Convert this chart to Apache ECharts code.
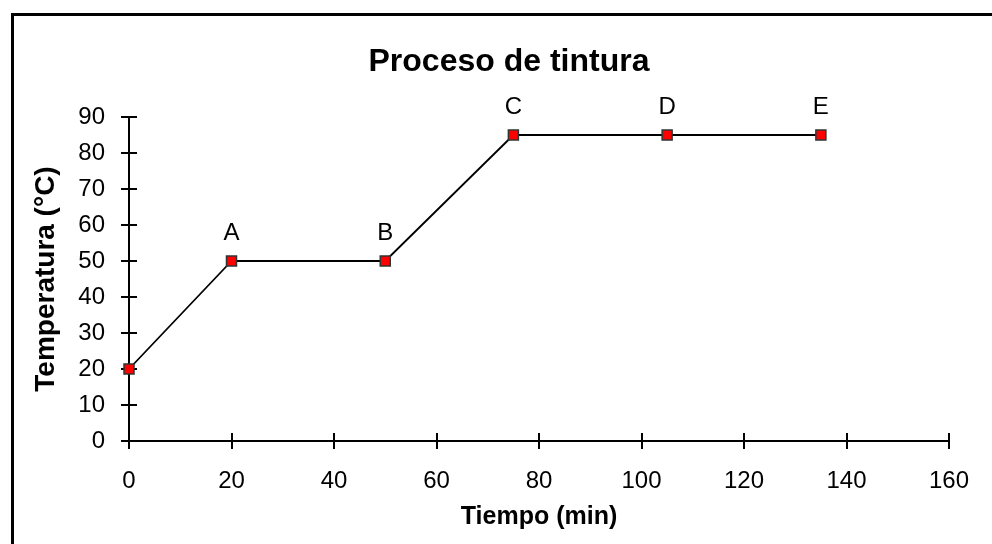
<!DOCTYPE html>
<html><head><meta charset="utf-8">
<script src="https://cdn.jsdelivr.net/npm/echarts@6/dist/echarts.min.js"></script>
<style>html,body{margin:0;padding:0;background:#fff}#c{width:992px;height:544px}</style>
</head><body><div id="c"></div>
<script>
const tiempo = [0, 20, 50, 75, 105, 135];
const temperatura = [20, 50, 50, 85, 85, 85];
const etiquetas = ['', 'A', 'B', 'C', 'D', 'E'];
const titulo = 'Proceso de tintura';
const nombreX = 'Tiempo (min)';
const nombreY = 'Temperatura (°C)';

const chart = echarts.init(document.getElementById('c'), null, {renderer: 'canvas'});
const font = 'Liberation Sans, Arial, sans-serif';
const axisBase = {
  axisLine: {show: true, lineStyle: {color: '#000', width: 2}},
  splitLine: {show: false}
};
chart.setOption({
  animation: false,
  backgroundColor: '#fff',
  title: {text: titulo, left: 504, top: 41, textAlign: 'center',
    textStyle: {fontFamily: font, fontSize: 32, fontWeight: 'bold', color: '#000'}},
  grid: {left: 129, right: 43, top: 117, bottom: 103},
  graphic: [{type: 'polyline', shape: {points: [[12.5, 544], [12.5, 14.5], [992, 14.5]]},
    style: {stroke: '#000', lineWidth: 3, fill: null}}],
  xAxis: [
    Object.assign({type: 'value', min: 0, max: 160, interval: 20,
      name: nombreX, nameLocation: 'middle', nameGap: 64,
      nameTextStyle: {fontFamily: font, fontSize: 25, fontWeight: 'bold', color: '#000'},
      axisTick: {show: true, length: 8, lineStyle: {color: '#000', width: 2}},
      axisLabel: {fontFamily: font, fontSize: 24, color: '#000', margin: 28}}, axisBase),
    Object.assign({type: 'value', min: 0, max: 160, interval: 20, position: 'bottom',
      axisTick: {show: true, inside: true, length: 8, lineStyle: {color: '#000', width: 2}},
      axisLabel: {show: false}}, axisBase)
  ],
  yAxis: [
    Object.assign({type: 'value', min: 0, max: 90, interval: 10,
      name: nombreY, nameLocation: 'middle', nameGap: 69,
      nameTextStyle: {fontFamily: font, fontSize: 28, fontWeight: 'bold', color: '#000'},
      axisTick: {show: true, length: 8, lineStyle: {color: '#000', width: 2}},
      axisLabel: {fontFamily: font, fontSize: 24, color: '#000', margin: 24}}, axisBase),
    Object.assign({type: 'value', min: 0, max: 90, interval: 10, position: 'left',
      axisTick: {show: true, inside: true, length: 8, lineStyle: {color: '#000', width: 2}},
      axisLabel: {show: false}}, axisBase)
  ],
  series: [{
    type: 'line',
    data: tiempo.map((t, i) => [t, temperatura[i]]),
    symbol: 'rect', symbolSize: 10,
    lineStyle: {color: '#000', width: 1.8},
    itemStyle: {color: '#ff0000', borderColor: '#333', borderWidth: 1.5},
    label: {show: true, position: 'top', distance: 10,
      formatter: p => etiquetas[p.dataIndex],
      fontFamily: font, fontSize: 24, color: '#000'}
  }]
});
</script></body></html>
